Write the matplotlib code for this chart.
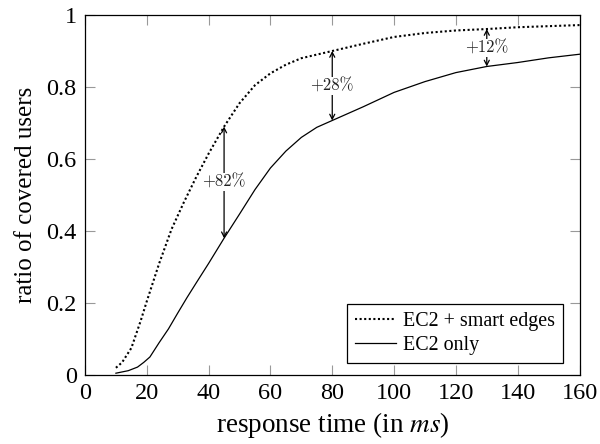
import numpy as np
import matplotlib
matplotlib.use("Agg")
from matplotlib import pyplot as plt
from matplotlib.ticker import FuncFormatter

x_smart = [10, 12, 15, 18, 20, 24, 28, 32, 36, 40, 45, 50, 55, 60, 65, 70,
           80, 90, 100, 110, 120, 130, 140, 150, 160]
y_smart = [0.02, 0.035, 0.075, 0.15, 0.205, 0.31, 0.405, 0.48, 0.55, 0.615,
           0.69, 0.755, 0.805, 0.838, 0.862, 0.88, 0.90, 0.92, 0.939, 0.95,
           0.957, 0.961, 0.966, 0.969, 0.972]

x_ec2 = [10, 14, 17, 19, 21, 24, 27, 30, 33, 36, 40, 45, 50, 55, 60, 65, 70,
         75, 80, 90, 100, 110, 120, 130, 140, 150, 160]
y_ec2 = [0.005, 0.012, 0.022, 0.035, 0.05, 0.09, 0.128, 0.172, 0.215, 0.256,
         0.31, 0.38, 0.447, 0.515, 0.575, 0.622, 0.66, 0.688, 0.707, 0.745,
         0.785, 0.815, 0.84, 0.857, 0.868, 0.881, 0.891]

# gain annotations: x position, top value, bottom value, label
gain_x = [45, 80, 130]
gain_top = [0.69, 0.90, 0.961]
gain_bot = [0.38, 0.707, 0.857]
gain_lbl = ["+82%", "+28%", "+12%"]

plt.rcParams['font.family'] = ['Liberation Serif', 'DejaVu Serif']
plt.rcParams['mathtext.fontset'] = 'stix'

fig = plt.figure(figsize=(6, 4.44), dpi=100)
ax = fig.add_axes([85 / 600, 1 - 375 / 444, 494.5 / 600, 360 / 444])

dots = (0, (1.0, 1.2))
ax.plot(x_smart, y_smart, color='black', linestyle=dots,
        linewidth=1.5, dash_capstyle='butt', label='EC2 + smart edges')
ax.plot(x_ec2, y_ec2, color='black', linewidth=0.9, label='EC2 only')

for gx, gt, gb, gl in zip(gain_x, gain_top, gain_bot, gain_lbl):
    ax.annotate("", xy=(gx, gt), xytext=(gx, gb),
                arrowprops=dict(arrowstyle='<->,head_length=0.35,head_width=0.18',
                                color='black', lw=0.9, shrinkA=0, shrinkB=0))
    ax.text(gx, (gt + gb) / 2, gl, family='cmr10', fontsize=12,
            ha='center', va='center', color='#222222',
            bbox=dict(facecolor='white', edgecolor='none', pad=1.0))

ax.set_xlim(0, 160)
ax.set_ylim(0, 1)
ax.set_xticks(np.arange(0, 161, 20))
ax.set_yticks(np.arange(0, 1.01, 0.2))
ax.yaxis.set_major_formatter(FuncFormatter(lambda v, p: "%g" % round(v, 1)))
ax.tick_params(direction='in', length=7, width=0.8, color='#999999',
               top=True, right=True, labelsize=17.5, pad=6)
for s in ax.spines.values():
    s.set_linewidth(0.9)

ax.set_xlabel(r"response time (in $\mathit{ms}$)", fontsize=19.5, labelpad=4)
ax.set_ylabel("ratio of covered users", fontsize=18, labelpad=7)

leg = ax.legend(loc='lower right', bbox_to_anchor=(0.9657, 0.0333),
                borderaxespad=0, fontsize=14.4, fancybox=False,
                edgecolor='black', framealpha=1, handlelength=2.05,
                handletextpad=0.35, labelspacing=0.25, borderpad=0.4)
leg.get_frame().set_linewidth(0.9)

fig.savefig("out.png", dpi=100)
